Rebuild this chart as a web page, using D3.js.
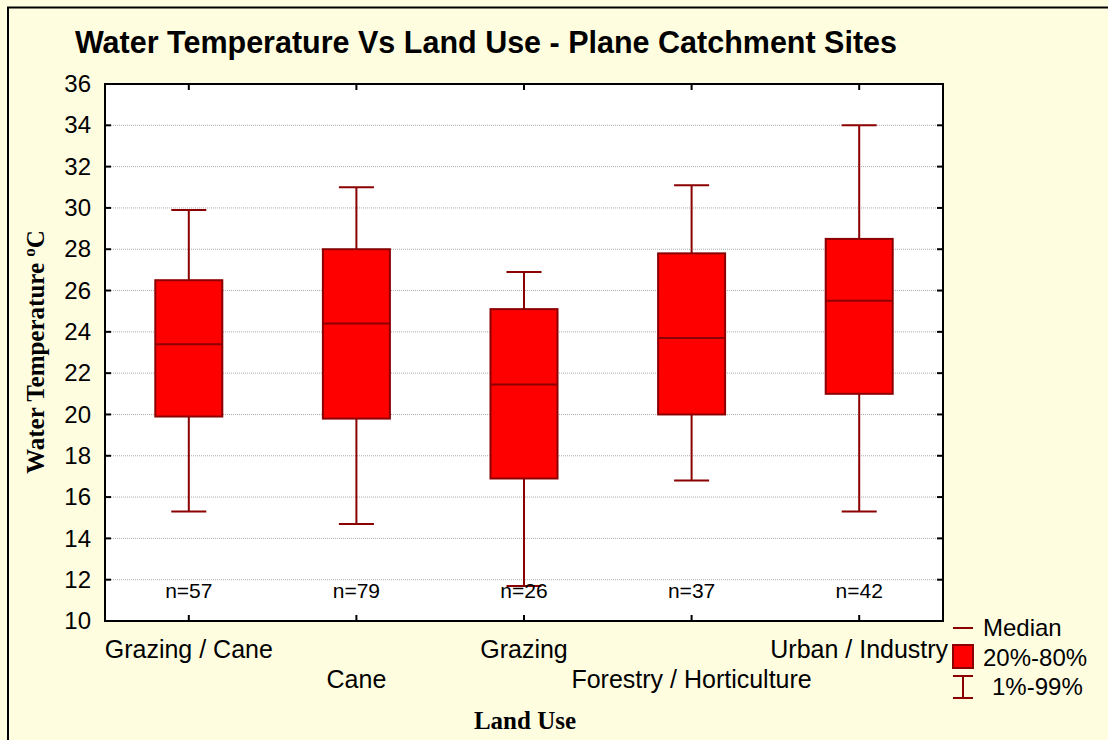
<!DOCTYPE html>
<html lang="en">
<head>
    <meta charset="UTF-8">
    <title>Water Temperature Vs Land Use</title>
    <style>
        body { margin: 0; background: #fffde0; }
        svg { display: block; }
        .tick text { font-family: Arial, "Liberation Sans", sans-serif; }
    </style>
</head>
<body>
    <svg id="chart" width="1108" height="740"></svg>

    <script src="https://d3js.org/d3.v7.min.js"></script>
    <script>
        // data
        const landUse = ["Grazing / Cane", "Cane", "Grazing", "Forestry / Horticulture", "Urban / Industry"];
        const counts = [57, 79, 26, 37, 42];
        const p01 = [15.3, 14.7, 11.7, 16.8, 15.3];
        const p20 = [19.9, 19.8, 16.9, 20.0, 21.0];
        const medians = [23.4, 24.4, 21.45, 23.7, 25.5];
        const p80 = [26.5, 28.0, 25.1, 27.8, 28.5];
        const p99 = [29.9, 31.0, 26.9, 31.1, 34.0];
        const yTicks = [10, 12, 14, 16, 18, 20, 22, 24, 26, 28, 30, 32, 34, 36];

        const boxes = landUse.map((name, i) => ({
            name, n: counts[i], lo: p01[i], q1: p20[i], med: medians[i], q3: p80[i], hi: p99[i]
        }));

        const svg = d3.select("#chart");
        const plotL = 105, plotT = 84, plotR = 943, plotB = 621;
        const dark = "#8b0000", fillRed = "#ff0000";
        const sans = "Arial, 'Liberation Sans', sans-serif";
        const serif = "'Liberation Serif', 'Times New Roman', serif";

        // outer frame
        svg.append("rect").attr("x", 0).attr("y", 0).attr("width", 1108).attr("height", 740).attr("fill", "#fffde0");
        svg.append("path").attr("d", "M8,740V7.5H1108").attr("fill", "none").attr("stroke", "#000").attr("stroke-width", 2);

        const x = d3.scalePoint().domain(landUse).range([plotL, plotR]).padding(0.5);
        const y = d3.scaleLinear().domain([10, 36]).range([plotB, plotT]);

        // plot area
        svg.append("rect").attr("x", plotL).attr("y", plotT).attr("width", plotR - plotL).attr("height", plotB - plotT).attr("fill", "#fff");

        // grid
        svg.append("g").selectAll("line")
            .data(yTicks.slice(1, -1))
            .enter().append("line")
            .attr("x1", plotL).attr("x2", plotR)
            .attr("y1", d => y(d)).attr("y2", d => y(d))
            .attr("stroke", "#aaa").attr("stroke-width", 1).attr("stroke-dasharray", "1,1");

        // y axis labels
        const yAxis = svg.append("g").attr("transform", `translate(${plotL},0)`)
            .call(d3.axisLeft(y).tickValues(yTicks).tickSize(0).tickPadding(14));
        yAxis.selectAll("text").attr("font-size", 24).attr("fill", "#000");
        yAxis.select(".domain").remove();

        const tickLen = 6;
        // inward ticks on all four sides
        const tk = svg.append("g").attr("stroke", "#000").attr("stroke-width", 2);
        yTicks.forEach(v => {
            tk.append("line").attr("x1", plotL).attr("x2", plotL + tickLen).attr("y1", y(v)).attr("y2", y(v));
            tk.append("line").attr("x1", plotR - tickLen).attr("x2", plotR).attr("y1", y(v)).attr("y2", y(v));
        });
        landUse.forEach(c => {
            tk.append("line").attr("x1", x(c)).attr("x2", x(c)).attr("y1", plotB).attr("y2", plotB - tickLen);
            tk.append("line").attr("x1", x(c)).attr("x2", x(c)).attr("y1", plotT).attr("y2", plotT + tickLen);
        });

        // x category labels, staggered
        svg.append("g").selectAll("text")
            .data(landUse)
            .enter().append("text")
            .attr("x", d => x(d))
            .attr("y", (d, i) => i % 2 === 0 ? 658 : 688)
            .attr("text-anchor", "middle")
            .attr("font-family", sans)
            .attr("font-size", 25)
            .text(d => d);

        // boxes
        const boxW = 67, capW = 35;
        const g = svg.append("g").selectAll("g")
            .data(boxes)
            .enter().append("g")
            .attr("transform", d => `translate(${x(d.name)},0)`);

        g.append("line").attr("y1", d => y(d.hi)).attr("y2", d => y(d.q3)).attr("stroke", dark).attr("stroke-width", 2);
        g.append("line").attr("y1", d => y(d.q1)).attr("y2", d => y(d.lo)).attr("stroke", dark).attr("stroke-width", 2);
        g.append("line").attr("x1", -capW / 2).attr("x2", capW / 2).attr("y1", d => y(d.hi)).attr("y2", d => y(d.hi)).attr("stroke", dark).attr("stroke-width", 2);
        g.append("line").attr("x1", -capW / 2).attr("x2", capW / 2).attr("y1", d => y(d.lo)).attr("y2", d => y(d.lo)).attr("stroke", dark).attr("stroke-width", 2);
        g.append("rect")
            .attr("x", -boxW / 2).attr("width", boxW)
            .attr("y", d => y(d.q3)).attr("height", d => y(d.q1) - y(d.q3))
            .attr("fill", fillRed).attr("stroke", dark).attr("stroke-width", 2);
        g.append("line").attr("x1", -boxW / 2).attr("x2", boxW / 2).attr("y1", d => y(d.med)).attr("y2", d => y(d.med)).attr("stroke", dark).attr("stroke-width", 2);

        g.append("text")
            .attr("y", 598)
            .attr("text-anchor", "middle")
            .attr("font-family", sans)
            .attr("font-size", 21)
            .text(d => "n=" + d.n);

        // plot border
        svg.append("rect").attr("x", plotL).attr("y", plotT).attr("width", plotR - plotL).attr("height", plotB - plotT)
            .attr("fill", "none").attr("stroke", "#000").attr("stroke-width", 2);

        // title
        svg.append("text")
            .attr("x", 486).attr("y", 53)
            .attr("text-anchor", "middle")
            .attr("font-family", sans)
            .attr("font-weight", "bold")
            .attr("font-size", 30.5)
            .text("Water Temperature Vs Land Use - Plane Catchment Sites");

        // axis titles
        svg.append("text")
            .attr("x", 525).attr("y", 729)
            .attr("text-anchor", "middle")
            .attr("font-family", serif)
            .attr("font-weight", "bold")
            .attr("font-size", 25)
            .text("Land Use");

        const yt = svg.append("text")
            .attr("transform", "translate(44,352) rotate(-90)")
            .attr("text-anchor", "middle")
            .attr("font-family", serif)
            .attr("font-weight", "bold")
            .attr("font-size", 25);
        yt.append("tspan").text("Water Temperature ");
        yt.append("tspan").attr("font-size", 17).attr("dy", -9).text("o");
        yt.append("tspan").attr("dy", 9).text("C");

        // legend
        const lg = svg.append("g").attr("transform", "translate(963,0)");
        lg.append("line").attr("x1", -10).attr("x2", 10).attr("y1", 628).attr("y2", 628).attr("stroke", dark).attr("stroke-width", 2);
        lg.append("rect").attr("x", -10).attr("y", 645).attr("width", 20).attr("height", 23).attr("fill", fillRed).attr("stroke", dark).attr("stroke-width", 2);
        lg.append("line").attr("x1", 0).attr("x2", 0).attr("y1", 676).attr("y2", 698).attr("stroke", dark).attr("stroke-width", 2);
        lg.append("line").attr("x1", -10).attr("x2", 10).attr("y1", 676).attr("y2", 676).attr("stroke", dark).attr("stroke-width", 2);
        lg.append("line").attr("x1", -10).attr("x2", 10).attr("y1", 698).attr("y2", 698).attr("stroke", dark).attr("stroke-width", 2);
        [["Median", 636, 20], ["20%-80%", 666, 20], ["1%-99%", 695, 29]].forEach(([t, yy, dx]) => {
            lg.append("text").attr("x", dx).attr("y", yy)
                .attr("font-family", sans).attr("font-size", 24).text(t);
        });
    </script>
</body>
</html>
